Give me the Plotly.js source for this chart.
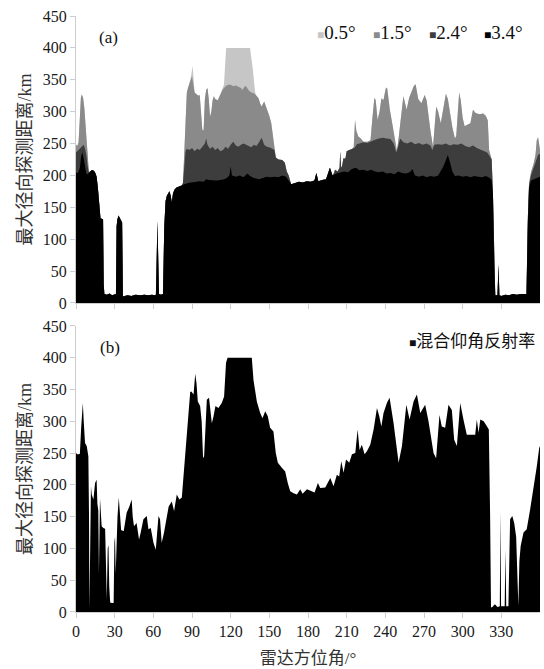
<!DOCTYPE html>
<html><head><meta charset="utf-8">
<script src="https://cdn.plot.ly/plotly-3.0.1.min.js"></script>
<style>body{margin:0;background:#fff}#chart{width:544px;height:669px}</style>
</head><body><div id="chart"></div>
<script>
// ---- data (azimuth in degrees, max radial detection range in km) ----
const xTicks = [0,30,60,90,120,150,180,210,240,270,300,330];
const seriesNames = ['0.5°','1.5°','2.4°','3.4°'];
const mixedName = '混合仰角反射率';

const az34 = [0,1,2,3,4,5,6,7,8,9,10,11,12,13,14,15,16,17,18,19,20,21,21.5,22,24,26,28,30,31,31.5,32,33,34,35,35.8,36.4,38,40,43,46,50,53,56,59,61,62,62.6,63.2,63.8,64.4,66,67.5,68.5,69.5,70.5,71.5,72.5,73.5,74.3,75.3,76.5,78,80,82,84,87,90,93,96,99,101,103,106,109,112,115,117,119,120,121,124,127,130,133,135,138,142,145,148,151,154,157,160,163,165,167,170,173,176,179,182,185,186.5,188,191,194,197,199,202,205,208,211,214,217,220,223,226,229,232,235,238,241,244,247,250,253,256,259,261,263,266,269,272,275,278,281,283,285,287,288.5,290,292,294,297,300,303,306,309,312,315,318,321,322.5,323.5,324.5,325.3,327,327.8,328.5,330,333,336,339,342,345,348,349.5,350.5,351.5,353,356,360];
const r34 = [205,203,206,212,230,236,226,212,203,202,204,206,208,208,207,204,198,180,150,133,132,131,30,14,13,15,12,13,14,120,130,137,133,130,126,10,11,12,11,13,12,13,12,13,12,13,70,128,70,14,13,14,120,160,168,173,175,168,158,172,178,181,183,184,186,188,189,190,191,190,194,193,192,192,193,194,196,200,214,200,198,200,197,203,199,196,194,196,198,197,198,197,200,198,192,186,188,190,189,191,190,192,204,191,193,194,212,200,203,204,206,205,210,212,208,209,207,209,206,205,206,203,204,202,206,204,203,205,210,200,198,200,197,199,198,200,206,214,224,232,222,206,199,200,198,199,197,199,198,197,199,196,193,170,60,12,12,60,12,11,13,12,14,13,14,14,14,120,180,192,195,198];

const az24 = [0,1,2,3,4,5,6,7,8,9,10,11,12,13,14,15,16,17,18,19,20,21,21.5,22,24,26,28,30,31,31.5,32,33,34,35,35.8,36.4,38,40,43,46,50,53,56,59,61,62,62.6,63.2,63.8,64.4,66,67.5,68.5,69.5,70.5,71.5,72.5,73.5,74.3,75.3,76.5,78,80,82,83,84,85,86,88,90,92,94,96,98,100,101,102,104,106,108,110,112,114,116,118,120,122,124,126,128,130,132,134,136,138,140,142,144,146,148,150,152,154,155,157,160,162,163.5,165,166,167,170,173,176,179,182,185,186.5,188,191,194,197,199,200,201,203,204.5,205,205.7,206.5,207.5,209,210,212,214,216,218,220,223,226,229,232,235,238,241,244,246.5,248.5,250,251.5,254,257,260,263,266,269,272,275,276.5,278,281,284,287,290,293,296,299,302,305,308,311,314,317,319,321,322.5,323.5,324.5,325.3,327,327.8,328.5,330,333,336,339,342,345,348,349.5,350.5,351.5,353,355,357,358.5,359.5,360];
const r24 = [236,238,241,243,245,247,248,242,232,215,205,206,208,208,207,204,198,180,150,133,132,131,30,14,13,15,12,13,14,120,130,137,133,130,126,10,11,12,11,13,12,13,12,13,12,13,70,128,70,14,13,14,120,160,168,173,175,168,158,172,178,181,183,184,188,215,238,242,240,243,238,242,240,245,250,258,248,242,245,240,243,238,240,245,242,248,253,247,245,248,250,248,246,244,248,246,252,259,248,245,244,242,240,228,225,224,220,206,200,192,186,188,190,189,191,190,192,204,191,193,194,212,200,203,209,206,212,238,212,215,227,226,238,240,241,243,249,250,252,251,254,256,258,259,258,257,250,236,246,258,252,250,253,249,251,248,250,247,240,248,249,248,250,247,249,248,250,246,244,247,243,240,238,236,230,225,170,60,12,12,60,12,11,13,12,14,13,14,14,14,130,185,200,212,225,232,234,232];

const az15 = [0,1,2,3,3.8,4.5,5.5,6.5,7.3,8,8.8,9.5,10,11,12,13,14,15,16,17,18,19,20,21,21.5,22,24,26,28,30,31,31.5,32,33,34,35,35.8,36.4,38,40,43,46,50,53,56,59,61,62,62.6,63.2,63.8,64.4,66,67.5,68.5,69.5,70.5,71.5,72.5,73.5,74.3,75.3,76.5,78,80,82,83,84,85,86,87,88,89,90,91,92,93,95,96,97,98,99,100,101,102,103,104,105,106,107,108,110,112,114,116,118,120,122,124,126,128,129,130,131,132,134,136,138,140,141.6,143,144,146,148,150,151.5,153,154,155,157,160,162,163.5,165,166,167,170,173,176,179,182,185,186.5,188,191,194,197,199,200,201,203,204.5,205,205.7,206.5,207.5,209,210,212,214,215.5,216.5,217.5,219,221,223,226,228.5,230,231.5,232.5,234,235.5,237,238.5,240.5,241.5,243.5,245.5,247,249,250.5,252,254,256.5,258.5,260.5,262,263.5,265.5,268,270.5,272,273.5,275,277,279.5,281,283,285,287,288.5,290,292,294,295,297.3,298.5,300,301.5,304,306,308,310,313,316,318,319.5,320.5,322.5,323.5,324.5,325.3,327,327.8,328.5,330,333,336,339,342,345,348,349.5,350.5,351.5,353,355,356.5,357.5,358.5,359.5,360];
const r15 = [248,246,252,300,322,327,322,305,280,250,228,212,205,206,208,208,207,204,198,180,150,133,132,131,30,14,13,15,12,13,14,120,130,137,133,130,126,10,11,12,11,13,12,13,12,13,12,13,70,128,70,14,13,14,120,160,168,173,175,168,158,172,178,181,183,184,188,240,300,330,338,346,350,356,345,330,328,325,326,305,272,270,320,334,337,320,292,300,318,324,320,318,328,335,340,342,342,340,341,339,337,334,338,340,340,333,330,329,325,321,312,308,316,305,293,282,255,240,228,225,224,220,206,200,192,186,188,190,189,191,190,192,204,191,193,194,212,200,203,209,206,212,238,212,215,227,226,238,240,241,245,287,270,261,258,253,253,255,290,322,318,287,300,321,318,338,336,303,280,261,238,262,292,324,303,322,332,340,343,320,313,326,318,292,270,245,308,300,282,305,328,320,300,275,258,262,330,318,290,277,280,282,303,298,296,297,293,286,240,225,170,60,12,12,60,12,11,13,12,14,13,14,14,14,130,188,205,218,232,255,260,248,240];

const az05 = [0,1,2,3,3.8,4.5,5.5,6.5,7.3,8,8.8,9.5,10,11,12,13,14,15,16,17,18,19,20,21,21.5,22,24,26,28,30,31,31.5,32,33,34,35,35.8,36.4,38,40,43,46,50,53,56,59,61,62,62.6,63.2,63.8,64.4,66,67.5,68.5,69.5,70.5,71.5,72.5,73.5,74.3,75.3,76.5,78,80,82,83,84,85,86,87,88,89,90.5,91.5,92,93,95,96,97,98,99,100,101,102,103,104,105,106,107,108,110,112,114,114.8,116.5,135,137,139,140,141.6,143,144,146,148,150,151.5,153,154,155,157,160,162,163.5,165,166,167,170,173,176,179,182,185,186.5,188,191,194,197,199,200,201,203,204.5,205,205.7,206.5,207.5,209,210,212,214,215.5,216.5,217.5,219,221,223,226,228.5,230,231.5,232.5,234,235.5,237,238.5,240.5,241.5,243.5,245.5,247,249,250.5,252,254,256.5,258.5,260.5,262,263.5,265.5,268,270.5,272,273.5,275,277,279.5,281,283,285,287,288.5,290,292,294,295,297.3,298.5,300,301.5,304,306,308,310,313,316,318,319.5,320.5,322.5,323.5,324.5,325.3,327,327.8,328.5,330,333,336,339,342,345,348,349.5,350.5,351.5,353,355,356.5,357.5,358.5,359.5,360];
const r05 = [248,246,252,300,322,327,322,305,280,250,228,212,205,206,208,208,207,204,198,180,150,133,132,131,30,14,13,15,12,13,14,120,130,137,133,130,126,10,11,12,11,13,12,13,12,13,12,13,70,128,70,14,13,14,120,160,168,173,175,168,158,172,178,181,183,184,188,240,300,330,338,346,352,372,350,330,328,325,326,305,272,270,320,334,337,320,292,300,318,324,320,318,328,335,342,400,400,370,330,325,321,312,308,316,305,293,282,255,240,228,225,224,220,206,200,192,186,188,190,189,191,190,192,204,191,193,194,212,200,203,209,206,212,238,212,215,227,226,238,240,241,245,287,270,261,258,253,253,255,290,322,318,287,300,321,318,338,336,303,280,261,238,262,292,324,303,322,332,340,343,320,313,326,318,292,270,245,308,300,282,305,328,320,300,275,258,262,330,318,290,277,280,282,303,298,296,297,293,286,240,225,170,60,12,12,60,12,11,13,12,14,13,14,14,14,130,188,205,218,232,255,260,248,240];

const azMix = [0,1,2,3,4,4.6,5.3,6,7,8.3,9.6,10.1,10.4,11,11.6,12.2,13.5,14.8,16,16.6,17.3,17.8,18.2,18.6,19.9,21.2,22.6,23.3,23.9,24.6,25.2,25.8,26.5,27.9,29.2,29.8,30.3,30.8,31.4,32.2,33.2,34,35,37,39.3,41.4,43.2,44,45,47,48.9,50.2,52.3,54.9,56.2,58,60.1,61.9,64,65.2,66.5,68.3,70.4,71.9,74.3,76.1,78.2,80.2,82.1,83.5,84.7,86,87.3,88.6,89.5,91.2,92.5,93.5,94.5,96.3,97.5,98.6,99.4,100.5,101.5,103.2,105.4,106.7,108.2,110.5,113.1,114.9,116.4,117.6,136.4,137.7,140.3,142.9,144.7,146.8,148.8,150.6,153.2,155,156.6,159.7,162.3,164.3,166.2,168.8,171.4,174,175.8,179.2,183.1,185.1,187.7,189.5,193.4,197.3,199.8,202.4,204.2,205.8,207.6,209.5,212,214.1,216.7,218.5,220,221.8,223.9,225.7,228.3,230.9,233.5,235.3,236.9,238.6,241.2,243.3,246.4,249,250.3,252.9,256.3,258.8,261.9,264.5,267.1,270.9,273.5,277.4,279.4,282,283.8,286.4,289,291.6,293.4,295.5,298.1,300.6,303.2,306,309.7,311,312.3,313.7,316.3,318.9,320.3,321.3,322,323,325,327,328.8,329.3,329.8,331,332.6,333.2,333.8,335.5,336.8,338.5,340,341.5,342.5,343.2,344,345,347.2,349.7,352.3,354.9,357.5,359.6,360];
const rMix = [250,248,248,249,290,318,329,300,266,261,245,150,5,100,198,185,177,203,208,170,160,60,160,179,135,132,131,60,20,100,105,40,15,14,14,110,118,60,110,150,180,150,129,127,156,166,177,150,135,140,114,125,146,151,130,132,109,98,151,146,109,125,146,166,174,159,185,177,180,215,250,285,308,346,347,342,375,360,331,324,300,242,245,300,334,337,297,308,324,321,329,339,392,400,400,365,331,313,305,316,308,290,284,250,235,227,221,203,190,187,185,193,186,193,190,188,203,195,196,211,198,216,213,237,219,240,235,248,250,287,255,263,248,253,263,287,321,308,292,313,329,337,297,250,235,261,326,303,331,342,313,326,300,250,242,310,292,290,326,318,271,261,329,303,279,279,279,303,282,303,300,292,287,150,7,8,12,8,9,159,9,9,9,98,9,9,146,151,140,118,60,10,80,104,125,130,161,193,229,261,258];

// ---- styling ----
const colors = ['#c6c6c6','#8a8a8a','#3d3d3d','#000000'];
const serif = 'Liberation Serif, Times New Roman, serif';
const cjk = 'Liberation Serif, Noto Sans CJK SC, serif';

function area(x, y, color, name, xa, ya) {
  return {x: x, y: y, name: name, type: 'scatter', mode: 'lines', fill: 'tozeroy',
    fillcolor: color, line: {width: 0, color: color}, xaxis: xa, yaxis: ya, hoverinfo: 'skip'};
}
const topX = [az05, az15, az24, az34];
const topY = [r05, r15, r24, r34];
const traces = [];
for (let i = 0; i < 4; i++) traces.push(area(topX[i], topY[i], colors[i], seriesNames[i], 'x', 'y'));
traces.push(area(azMix, rMix, '#000000', mixedName, 'x2', 'y2'));

const axisBase = {showgrid: false, zeroline: false, showline: true, linecolor: '#cdcdcd', linewidth: 1,
  ticks: 'outside', ticklen: 5, tickcolor: '#cdcdcd', tickwidth: 1,
  tickfont: {family: serif, size: 16, color: '#1a1a1a'}};
const yTitle = {text: '最大径向探测距离/km', font: {family: cjk, size: 18, color: '#333'}, standoff: 6};

const legendPos = [0.516, 0.635, 0.756, 0.874];
const annotations = [
  {xref: 'x domain', yref: 'y domain', x: 0.069, y: 0.925, xanchor: 'center', yanchor: 'middle', text: '(a)', showarrow: false,
   font: {family: serif, size: 17, color: '#111'}},
  {xref: 'x2 domain', yref: 'y2 domain', x: 0.073, y: 0.925, xanchor: 'center', yanchor: 'middle', text: '(b)', showarrow: false,
   font: {family: serif, size: 17, color: '#111'}},
  {xref: 'x2 domain', yref: 'y2 domain', x: 0.714, y: 0.944, xanchor: 'left', yanchor: 'middle', showarrow: false,
   text: '<span style="font-size:12px">■</span>' + mixedName,
   font: {family: cjk, size: 17, color: '#111'}}
];
for (let i = 0; i < 4; i++) {
  annotations.push({xref: 'x domain', yref: 'y domain', x: legendPos[i], y: 0.941, xanchor: 'left', yanchor: 'middle', showarrow: false,
    text: '<span style="font-size:12px;color:' + colors[i] + '">■</span>' + seriesNames[i],
    font: {family: serif, size: 19, color: '#111'}});
}

const layout = {
  width: 544, height: 669,
  margin: {l: 76, r: 4, t: 16, b: 57},
  paper_bgcolor: '#fff', plot_bgcolor: '#fff',
  showlegend: false,
  font: {family: serif, size: 16, color: '#1a1a1a'},
  xaxis: Object.assign({}, axisBase, {domain: [0, 1], range: [0, 360], tickvals: xTicks, showticklabels: false, anchor: 'y'}),
  yaxis: Object.assign({}, axisBase, {domain: [0.5185, 1], range: [0, 450], dtick: 50, anchor: 'x', title: yTitle}),
  xaxis2: Object.assign({}, axisBase, {domain: [0, 1], range: [0, 360], tickvals: xTicks, anchor: 'y2',
    title: {text: '雷达方位角/°', font: {family: cjk, size: 17, color: '#333'}, standoff: 12}}),
  yaxis2: Object.assign({}, axisBase, {domain: [0, 0.4799], range: [0, 450], dtick: 50, anchor: 'x2', title: yTitle}),
  annotations: annotations
};

Plotly.newPlot('chart', traces, layout, {displayModeBar: false, staticPlot: true});
</script></body></html>
